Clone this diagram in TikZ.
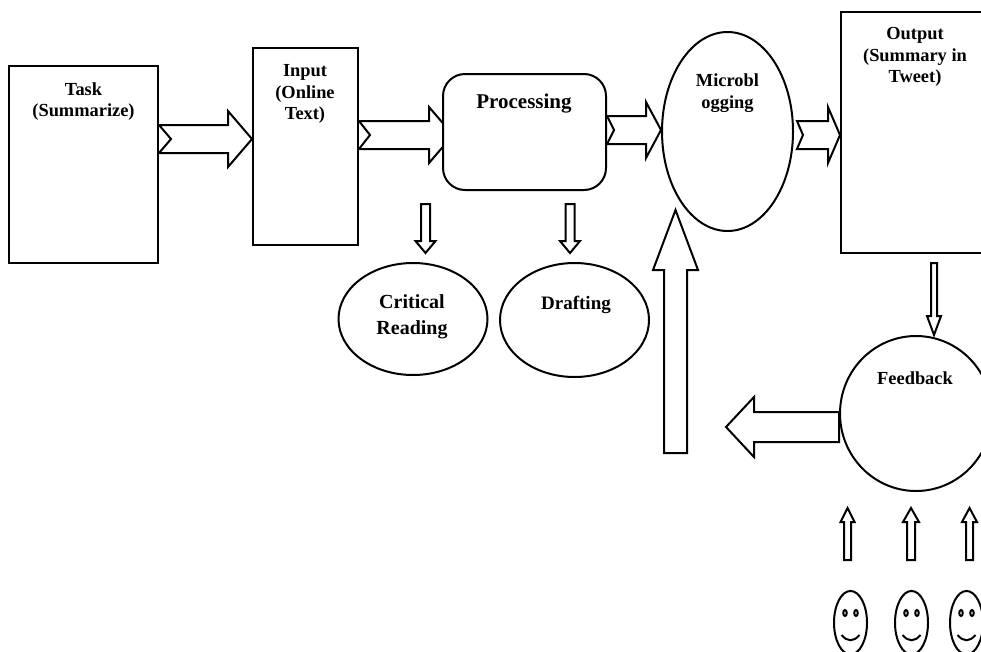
\documentclass[tikz,border=0pt]{standalone}
\usepackage{fontspec}
\setmainfont{Liberation Serif}
\usetikzlibrary{calc,shapes.geometric,backgrounds}
\newcommand{\blockarrow}[6]{
	\coordinate (neck) at ($(#2)!#4!(#1)$);
	\draw[blockline] ($(#1)!#3!90:(#2)$) -- ($(neck)!#3!-90:(#1)$)
		-- ($(neck)!#5!-90:(#1)$) -- (#2) -- ($(neck)!#5!90:(#1)$)
		-- ($(neck)!#3!90:(#1)$) -- ($(#1)!#3!-90:(#2)$)
		-- ($(#1)!#6!(#2)$) -- cycle;
}
\begin{document}
\begin{tikzpicture}[
		x=1pt, y=-1pt,
		outline/.style={draw=black,fill=white,line width=2pt,inner sep=0pt},
		boxnode/.style={outline,rectangle},
		roundnode/.style={outline,ellipse},
		blockline/.style={draw=black,fill=white,line width=2pt,line join=miter},
		boxtext/.style={font=\fontsize{18.4}{21.7}\selectfont\bfseries,align=center,inner sep=0pt},
		bigtext/.style={font=\fontsize{20}{26}\selectfont\bfseries,align=center,inner sep=0pt}
		]
		\useasboundingbox (0,0) rectangle (981,651);

		\node[boxnode,minimum width=149pt,minimum height=197pt] (task) at (83.5,164.5) {};
		\node[boxnode,minimum width=105pt,minimum height=197pt] (input) at (305.5,146.5) {};
		\node[boxnode,rounded corners=22pt,minimum width=163pt,minimum height=116pt] (processing) at (524.5,132) {};
		\node[roundnode,minimum width=131pt,minimum height=199pt] (micro) at (727.5,131.5) {};
		\node[boxnode,minimum width=148pt,minimum height=241pt] (output) at (915,132.5) {};
		\node[roundnode,minimum width=149pt,minimum height=112pt] (critical) at (413,319) {};
		\node[roundnode,minimum width=149pt,minimum height=114pt] (drafting) at (574.5,320) {};
		\node[roundnode,minimum width=152pt,minimum height=155pt] (feedback) at (916,413.5) {};

		\node[boxtext] (tasktext) at (83.5,101.5) {Task\\(Summarize)};
		\node[boxtext] (inputtext) at (305,94) {Input\\(Online\\Text)};
		\node[bigtext,font=\fontsize{21}{26}\selectfont\bfseries] (processingtext) at (524,104) {Processing};
		\node[boxtext] (microtext) at (727.5,93) {Microbl\\ogging};
		\node[boxtext] (outputtext) at (915,57) {Output\\(Summary in\\Tweet)};
		\node[bigtext] (criticaltext) at (412,317) {Critical\\Reading};
		\node[boxtext,font=\fontsize{19}{22}\selectfont\bfseries] (draftingtext) at (576,305) {Drafting};
		\node[boxtext] (feedbacktext) at (915,378.5) {Feedback};

		\coordinate (readtop) at (425.5,204);
		\coordinate (readtip) at (425.5,253);
		\coordinate (drafttop) at (570,204);
		\coordinate (drafttip) at (570,253);
		\coordinate (outstart) at (797,135);
		\coordinate (bigstart) at (675.5,453);
		\coordinate (bigtip) at (675.5,210);
		\coordinate (backtip) at (726,427);

		\begin{scope}[on background layer]
			\blockarrow{task.east |- 0,139}{input.west |- 0,139}{14pt}{24pt}{28pt}{12pt}
			\blockarrow{input.east |- 0,135}{453,135}{14pt}{24pt}{28pt}{11pt}
			\blockarrow{processing.east |- 0,130}{micro.west |- 0,130}{14pt}{15pt}{28pt}{7pt}
			\blockarrow{outstart}{output.west |- 0,135}{14pt}{12pt}{28pt}{6pt}
			\blockarrow{readtop}{readtip}{4.5pt}{12pt}{10pt}{0pt}
			\blockarrow{drafttop}{drafttip}{4.5pt}{12pt}{10pt}{0pt}
			\blockarrow{934,263}{feedback.north -| 934,0}{3pt}{19pt}{7pt}{0pt}
			\blockarrow{feedback.west |- 0,427}{backtip}{15pt}{28pt}{30pt}{0pt}
			\blockarrow{bigstart}{bigtip}{11.5pt}{60pt}{22.5pt}{0pt}
			\blockarrow{847.5,560}{847.5,508}{3.5pt}{14pt}{7pt}{0pt}
			\blockarrow{911,560}{911,508}{4pt}{14pt}{8pt}{0pt}
			\blockarrow{969.5,560}{969.5,508}{3.5pt}{14pt}{7.5pt}{0pt}
		\end{scope}

		\foreach \i/\fx in {1/850.5,2/911.5,3/966.5} {
			\node[roundnode,minimum width=33pt,minimum height=63.5pt] (face\i) at (\fx,622.7) {};
			\node[roundnode,minimum width=3.5pt,minimum height=6pt] (lefteye\i) at (\fx-5.5,613) {};
			\node[roundnode,minimum width=3.5pt,minimum height=6pt] (righteye\i) at (\fx+5.5,613) {};
			\draw[line width=2pt] (\fx-9,635) .. controls (\fx-3,642) and (\fx+3,642) .. (\fx+9,635);
		}
	\end{tikzpicture}
\end{document}
